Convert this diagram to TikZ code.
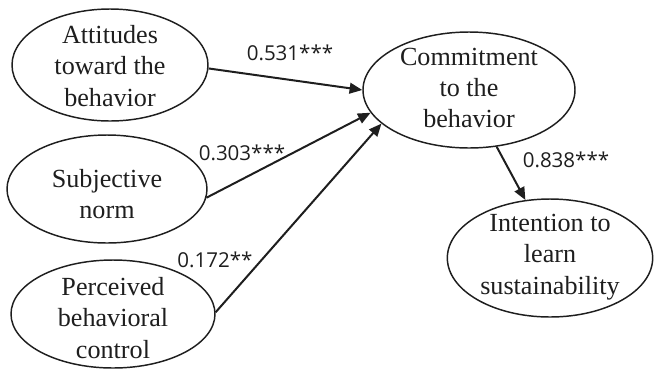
\documentclass[tikz,border=0pt]{standalone}
\usepackage{fontspec}
\setmainfont{Liberation Serif}
\newfontfamily\labelfont{Open Sans}
\usetikzlibrary{shapes.geometric,arrows.meta}
\definecolor{ink}{HTML}{1E1E1E}
\begin{document}
\begin{tikzpicture}[x=0.75pt,y=-0.75pt,
  bubble/.style={draw=ink,line width=1.1pt,ellipse,inner sep=0pt},
  bubbletext/.style={align=center,text=ink,inner sep=0pt,
    font=\fontsize{19.6}{23.4}\selectfont},
  path/.style={draw=ink,line width=1.5pt,
    -{Triangle[length=9.5pt,width=8pt]}},
  coef/.style={text=ink,inner sep=0pt,font=\labelfont\fontsize{15.4}{18}\selectfont}]
\useasboundingbox (0,0) rectangle (654,369);

% latent constructs
\node[bubble,minimum width=147pt,minimum height=84pt] (att) at (110,65) {};
\node[bubbletext] (att-t) at (110,66) {Attitudes\\toward the\\behavior};

\node[bubble,minimum width=150pt,minimum height=81pt] (sub) at (107,189) {};
\node[bubbletext] (sub-t) at (107,194) {Subjective\\norm};

\node[bubble,minimum width=153pt,minimum height=81pt] (per) at (113,314) {};
\node[bubbletext] (per-t) at (113,318) {Perceived\\behavioral\\control};

\node[bubble,minimum width=159pt,minimum height=87pt] (com) at (469,90) {};
\node[bubbletext] (com-t) at (469,88) {Commitment\\to the\\behavior};

\node[bubble,minimum width=154pt,minimum height=88.5pt] (int) at (550,258) {};
\node[bubbletext] (int-t) at (550,257) {Intention to\\learn\\sustainability};

% structural paths
\draw[path] (att.-2) -- (com.180);
\draw[path] (sub.-5) -- (com.193);
\draw[path] (per.1) -- (com.201);
\draw[path] (com.-64) -- (int.113);

% path coefficients
\node[coef] (c1) at (290,53) {0.531***};
\node[coef] (c2) at (242,153) {0.303***};
\node[coef] (c3) at (215,260) {0.172**};
\node[coef] (c4) at (566,160) {0.838***};
\end{tikzpicture}
\end{document}
